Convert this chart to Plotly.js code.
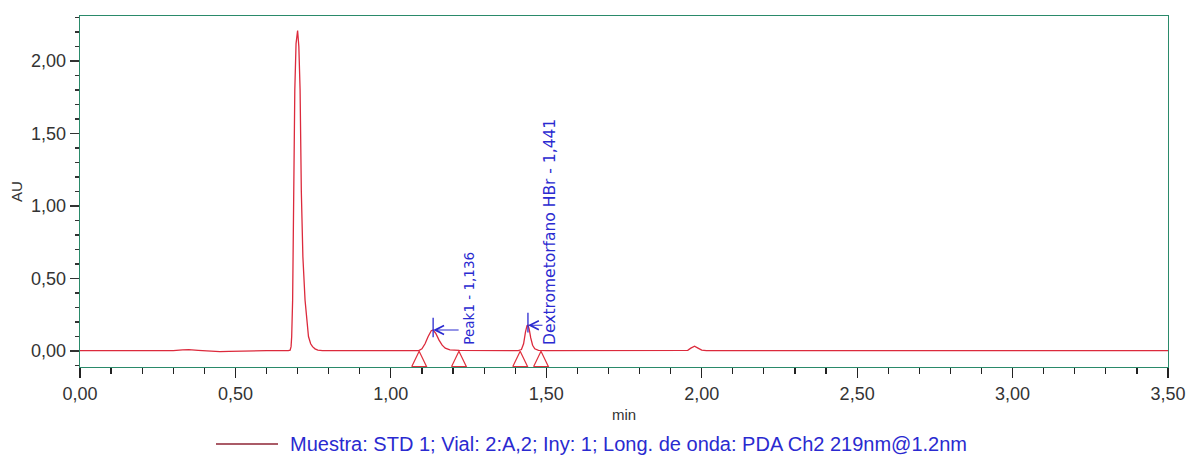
<!DOCTYPE html>
<html>
<head>
<meta charset="utf-8">
<script src="https://cdn.plot.ly/plotly-3.0.1.min.js"></script>
<style>html,body{margin:0;padding:0;background:#fff;}#chart{width:1187px;height:457px;}</style>
</head>
<body>
<div id="chart"></div>
<script>
// Chromatogram: retention time (min) and absorbance (AU)
var timeMin = [0.00,0.10,0.20,0.30,0.33,0.35,0.38,0.42,0.45,0.48,0.52,0.60,0.67,0.676,0.679,0.681,0.684,0.687,0.691,0.695,0.700,0.704,0.708,0.712,0.717,0.724,0.730,0.735,0.742,0.748,0.756,0.765,0.780,0.85,0.95,1.05,1.090,1.100,1.110,1.120,1.130,1.136,1.145,1.155,1.165,1.175,1.190,1.220,1.30,1.40,1.410,1.420,1.427,1.433,1.438,1.441,1.445,1.450,1.456,1.463,1.475,1.500,1.60,1.70,1.80,1.90,1.94,1.955,1.965,1.977,1.988,2.000,2.015,2.05,2.20,2.50,2.80,3.00,3.20,3.50];
var absAU   = [0.002,0.002,0.002,0.003,0.008,0.009,0.005,0.000,-0.004,-0.002,0.001,0.002,0.003,0.006,0.03,0.10,0.35,1.10,1.80,2.12,2.21,2.10,1.80,1.10,0.65,0.35,0.18,0.10,0.05,0.03,0.015,0.006,0.003,0.003,0.003,0.003,0.003,0.015,0.05,0.10,0.14,0.145,0.12,0.075,0.04,0.02,0.008,0.004,0.003,0.003,0.003,0.01,0.05,0.13,0.175,0.178,0.15,0.09,0.04,0.015,0.005,0.003,0.003,0.003,0.002,0.002,0.000,0.005,0.02,0.033,0.02,0.006,0.002,0.002,0.002,0.002,0.002,0.002,0.002,0.002];

// Integration events (peak start / end markers)
var eventTimes = [1.091, 1.219, 1.416, 1.483];

// Labelled peaks
var peakNames  = ["Peak1", "Dextrometorfano HBr"];
var peakTimes  = [1.136, 1.441];
var peakHeights = [0.145, 0.178];
var peakLabels = ["Peak1 - 1,136", "Dextrometorfano HBr - 1,441"];

var legendText = "Muestra: STD 1; Vial: 2:A,2; Iny: 1; Long. de onda: PDA Ch2 219nm@1.2nm";

var yMin = -0.1103, yMax = 2.3103;
var triHalf = 0.024;      // half width of event triangles (min)
var triBase = yMin + 0.002, triTop = -0.002;

var triX = [], triY = [];
eventTimes.forEach(function (t) {
  triX.push(t - triHalf, t, t + triHalf, t - triHalf, null);
  triY.push(triBase, triTop, triBase, triBase, null);
});

var traces = [
  {x: timeMin, y: absAU, type: 'scatter', mode: 'lines', name: legendText,
   line: {color: '#dc2a3c', width: 1.3}, hoverinfo: 'x+y'},
  {x: triX, y: triY, type: 'scatter', mode: 'lines', name: 'Eventos',
   line: {color: '#e0303c', width: 1.2}, hoverinfo: 'skip'}
];

var blue = '#2a2ad0';
var shapes = [], annotations = [];
peakTimes.forEach(function (t, i) {
  var h = peakHeights[i];
  shapes.push({type: 'line', xref: 'x', yref: 'y', x0: t, x1: t,
               y0: h - 0.05, y1: h + 0.085, line: {color: blue, width: 1.3}});
  annotations.push({x: t, y: h + 0.0, xref: 'x', yref: 'y', text: '',
                    showarrow: true, ax: (i === 0 ? 27 : 16), ay: 0,
                    arrowhead: 5, arrowsize: 1.6, arrowwidth: 1.1, arrowcolor: blue});
});
var labelX = [1.252, 1.512];
peakLabels.forEach(function (s, i) {
  annotations.push({x: labelX[i], y: 0.028, xref: 'x', yref: 'y', text: s,
                    showarrow: false, textangle: -90, xanchor: 'center', yanchor: 'bottom',
                    font: {family: 'DejaVu Sans', size: (i === 0 ? 13.5 : 15.5), color: blue}});
});

// manual legend
shapes.push({type: 'line', xref: 'paper', yref: 'paper', x0: 0.125, x1: 0.182,
             y0: -0.2194, y1: -0.2194, line: {color: '#8e2434', width: 1.5}});
annotations.push({x: 0.1912, y: -0.2194, xref: 'paper', yref: 'paper', text: legendText,
                  showarrow: false, xanchor: 'left', yanchor: 'middle',
                  font: {family: 'Liberation Sans, Arial, sans-serif', size: 20, color: blue}});

var axisGreen = '#2a8a6a';
var layout = {
  width: 1187, height: 457,
  margin: {l: 80, r: 19, t: 16, b: 90},
  paper_bgcolor: '#ffffff', plot_bgcolor: '#ffffff',
  separators: ',.',
  showlegend: false,
  font: {family: 'Liberation Sans, Arial, sans-serif', size: 18, color: '#333'},
  xaxis: {
    range: [0, 3.5], dtick: 0.5, tick0: 0, tickformat: '.2f',
    showgrid: false, zeroline: false,
    showline: true, linecolor: axisGreen, linewidth: 1.3, mirror: true,
    ticks: 'outside', ticklen: 10, tickwidth: 1.2, tickcolor: '#222',
    minor: {dtick: 0.1, tick0: 0, ticks: 'outside', ticklen: 6, tickwidth: 1.2, tickcolor: '#222', showgrid: false},
    tickfont: {size: 18, color: '#333'},
    title: {text: 'min', font: {size: 15, color: '#333'}, standoff: 6}
  },
  yaxis: {
    range: [yMin, yMax], dtick: 0.5, tick0: 0, tickformat: '.2f',
    showgrid: false, zeroline: false,
    showline: true, linecolor: axisGreen, linewidth: 1.3, mirror: true,
    ticks: 'outside', ticklen: 9, tickwidth: 1.2, tickcolor: '#333',
    minor: {dtick: 0.1, tick0: 0, ticks: 'outside', ticklen: 4, tickwidth: 1.2, tickcolor: '#333', showgrid: false},
    tickfont: {size: 18, color: '#333'},
    title: {text: 'AU', font: {size: 15, color: '#333'}, standoff: 4}
  },
  shapes: shapes,
  annotations: annotations
};

Plotly.newPlot('chart', traces, layout, {displayModeBar: false, staticPlot: true});
</script>
</body>
</html>
